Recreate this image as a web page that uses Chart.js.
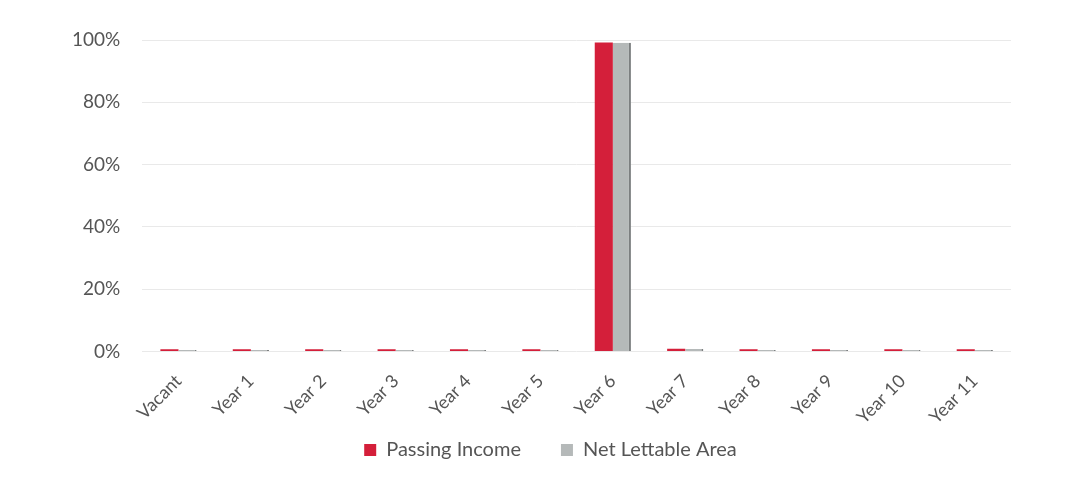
<!DOCTYPE html>
<html><head><meta charset="utf-8">
<script src="https://cdn.jsdelivr.net/npm/chart.js@4/dist/chart.umd.min.js"></script>
<style>html,body{margin:0;padding:0;background:#fff}#wrap{width:1087px;height:479px;position:relative}</style>
</head><body><div id="wrap"><canvas id="c" width="1087" height="479"></canvas></div>
<script>
const categories = ["Vacant","Year 1","Year 2","Year 3","Year 4","Year 5","Year 6","Year 7","Year 8","Year 9","Year 10","Year 11"];
const passingIncome = [0.7,0.7,0.7,0.7,0.7,0.7,99.2,0.9,0.7,0.7,0.7,0.7];
const netLettableArea = [0.5,0.5,0.5,0.5,0.5,0.5,99.1,0.8,0.5,0.5,0.5,0.5];
const yTicks = [0,20,40,60,80,100];

const shiftLegend = {
  id: 'shiftLegend',
  beforeDraw(chart){ const lg = chart.legend; if(lg && !lg._shifted){ lg.left += 20; lg.right += 20; lg.top -= 9; lg.bottom -= 9; lg._shifted = true; } }
};

new Chart(document.getElementById('c'), {
  type: 'bar',
  data: {
    labels: categories,
    datasets: [
      {label: 'Passing Income', data: passingIncome, backgroundColor: '#d41f3a', borderWidth: 0},
      {label: 'Net Lettable Area', data: netLettableArea, backgroundColor: '#b5b9b9', borderColor: '#7c7f80', borderWidth: {right: 2}, borderSkipped: false}
    ]
  },
  plugins: [shiftLegend],
  options: {
    responsive: false,
    animation: false,
    layout: {padding: {left: 50, right: 76, top: 40, bottom: 0}},
    datasets: {bar: {barPercentage: 1.0, categoryPercentage: 0.5}},
    plugins: {
      legend: {
        position: 'bottom',
        labels: {boxWidth: 12, boxHeight: 12, padding: 10, color: '#555',
          font: {family: 'Lato', size: 20}, generateLabels(chart){
            const l = Chart.defaults.plugins.legend.labels.generateLabels(chart);
            l.forEach((i,k)=>{i.lineWidth=0; if(k===0) i.text = i.text + '\u2003\u2003';});
            return l;
          }}
      },
      tooltip: {enabled: false}
    },
    scales: {
      x: {
        grid: {display: false},
        border: {display: false},
        ticks: {color: '#555', font: {family: 'Lato', size: 18}, maxRotation: 45, minRotation: 45, padding: 11}
      },
      y: {
        min: 0, max: 100,
        afterBuildTicks(axis){ axis.ticks = yTicks.map(v=>({value:v})); },
        grid: {color: '#e9e9e9', lineWidth: 1, drawTicks: false},
        border: {display: false},
        ticks: {color: '#555', font: {family: 'Lato', size: 19}, padding: 22, callback: v => v + '%'}
      }
    }
  }
});
</script></body></html>
